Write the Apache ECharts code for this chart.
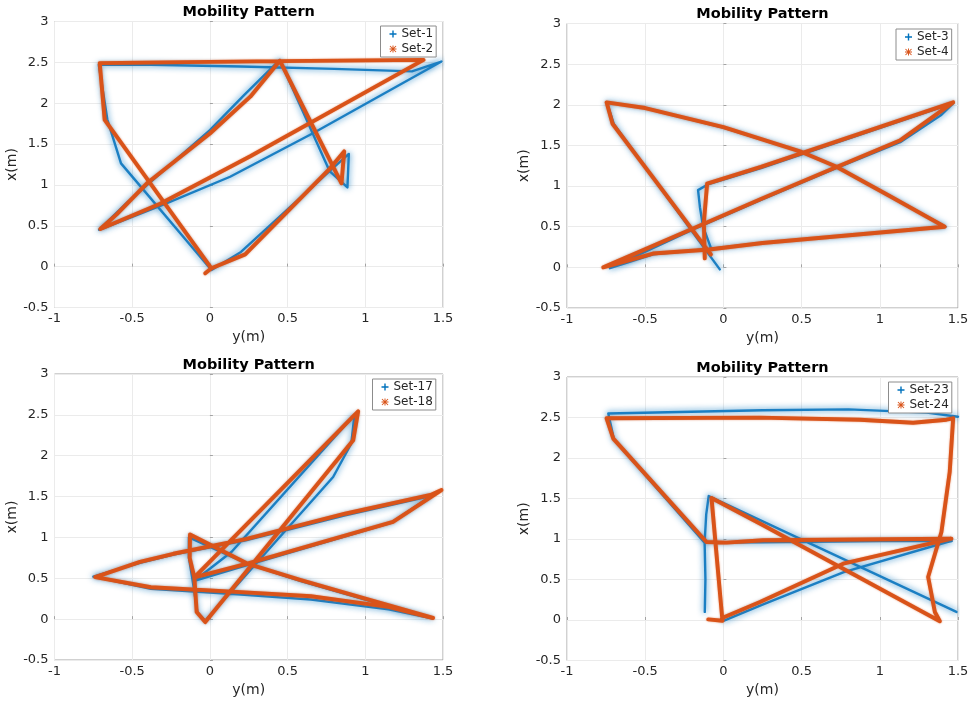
<!DOCTYPE html>
<html>
<head>
<meta charset="utf-8">
<script src="https://cdn.jsdelivr.net/npm/echarts@6/dist/echarts.min.js"></script>
<style>
  html, body { margin: 0; padding: 0; background: #ffffff; }
  #chart { width: 973px; height: 703px; }
</style>
</head>
<body>
<div id="chart"></div>
<script>
// Recorded trajectories, one [y (m), x (m)] pair per sample; null splits a run.
const set1 = [
  [0.885, 0.97], [0.894, 1.38], [0.77, 1.17], [0.20, 0.18], [0.01, -0.04],
  [-0.572, 1.264], [-0.66, 1.80], [-0.715, 2.47], [-0.38, 2.47], [0.2, 2.45],
  [0.8, 2.42], [1.3, 2.39], [1.49, 2.51], [0.66, 1.63], [0.13, 1.10],
  [-0.28, 0.775], [-0.713, 0.45], [-0.53, 0.79], [0.0, 1.67], [0.22, 2.10],
  [0.45, 2.53], [0.77, 1.17], [0.885, 0.97]
];
const set2 = [
  [-0.03, -0.08], [0.01, -0.02], [0.227, 0.15], [0.772, 1.20], [0.864, 1.41],
  [0.847, 1.02], [0.45, 2.52], [0.26, 2.08], [0.0, 1.63], [-0.405, 1.02],
  [-0.6, 0.64], [-0.705, 0.46], [-0.32, 0.77], [0.26, 1.35], [1.375, 2.53],
  [0.45, 2.515], [-0.3, 2.50], [-0.709, 2.49], [-0.677, 1.795], [0.01, -0.02]
];
const set3 = [
  [-0.08, 0.24], [-0.13, 0.50], [-0.15, 0.74], [-0.162, 0.95], [-0.10, 1.02],
  [0.24, 1.22], [1.47, 2.02], [1.39, 1.87], [1.13, 1.54], [0.72, 1.22],
  [0.24, 0.83], [-0.19, 0.47], [-0.726, -0.01], [-0.45, 0.16], [-0.09, 0.225],
  [0.25, 0.30], [1.42, 0.50], [1.06, 0.88], [0.72, 1.24], [0.5, 1.42],
  [0.0, 1.72], [-0.5, 1.96], [-0.745, 2.03], [-0.70, 1.76], [-0.023, -0.025]
];
const set4 = [
  [-0.119, 0.11], [-0.125, 0.55], [-0.104, 1.03], [0.24, 1.235], [1.469, 2.03],
  [1.128, 1.56], [0.724, 1.235], [0.24, 0.84], [-0.194, 0.479], [-0.768, 0.0],
  [-0.45, 0.17], [-0.09, 0.22], [0.25, 0.30], [1.415, 0.50], [1.06, 0.88],
  [0.72, 1.24], [0.5, 1.42], [0.0, 1.725], [-0.5, 1.96], [-0.747, 2.03],
  [-0.709, 1.767], [-0.08, 0.16]
];
const set17 = [
  [-0.03, -0.02], [-0.08, 0.08], [-0.11, 0.46], [-0.135, 0.75], [-0.135, 1.0],
  [0.24, 0.68], [0.58, 0.47], [1.0, 0.24], [1.43, 0.01], [1.15, 0.12],
  [0.65, 0.24], [0.2, 0.30], [-0.38, 0.37], [-0.75, 0.52], [-0.45, 0.69],
  [-0.235, 0.79], [0.23, 0.965], [0.87, 1.27], [1.425, 1.51], [1.17, 1.18],
  [0.24, 0.66], [-0.10, 0.47], [0.14, 0.825], [0.93, 2.50], [0.91, 2.15],
  [0.793, 1.74], [-0.03, -0.02]
];
const set18 = [
  [-0.03, -0.036], [-0.085, 0.087], [-0.10, 0.51], [-0.13, 0.75], [-0.128, 1.037],
  [0.24, 0.68], [0.58, 0.48], [1.0, 0.25], [1.436, 0.014], [1.15, 0.15],
  [0.65, 0.28], [0.2, 0.33], [-0.38, 0.39], [-0.738, 0.515], [-0.45, 0.70],
  [-0.235, 0.80], [0.23, 0.98], [0.87, 1.29], [1.42, 1.52], [1.49, 1.58],
  [1.178, 1.19], [0.24, 0.68], [-0.10, 0.51], [0.954, 2.543], [0.922, 2.188],
  [-0.03, -0.036]
];
const set23 = [
  [-0.119, 0.10], [-0.115, 0.5], [-0.12, 0.96], [-0.11, 1.3], [-0.094, 1.53],
  [1.49, 0.10], null,
  [0.0, -0.01], [0.25, 0.19], [0.77, 0.59], [1.43, 0.963], [1.46, 0.975],
  [1.0, 0.975], [0.25, 0.96], [-0.12, 0.955], [-0.70, 2.23], [-0.736, 2.55],
  [0.25, 2.59], [0.8, 2.60], [1.3, 2.56], [1.5, 2.51]
];
const set24 = [
  [-0.097, 0.008], [-0.006, -0.01], [-0.034, 0.593], [-0.076, 1.506], [0.254, 1.169],
  [1.384, -0.016], [1.352, 0.099], [1.309, 0.531], [1.394, 1.086], [1.447, 1.827],
  [1.469, 2.49], [1.426, 2.473], [1.213, 2.436], [0.873, 2.473], [0.234, 2.498],
  [-0.747, 2.49], [-0.704, 2.239], [-0.108, 0.963], [0.02, 0.955], [0.254, 0.984],
  [1.458, 1.004], [0.766, 0.695], [0.234, 0.222], [0.0, 0.03]
];

// Pairs of runs shown together in each panel
const panelSets = [
  [['Set-1', set1], ['Set-2', set2]],
  [['Set-3', set3], ['Set-4', set4]],
  [['Set-17', set17], ['Set-18', set18]],
  [['Set-23', set23], ['Set-24', set24]]
];
const panelTitle = 'Mobility Pattern';
const horizName = 'y(m)';
const vertName = 'x(m)';
const horizRange = [-1, 1.5];
const vertRange = [-0.5, 3];
const tickStep = 0.5;

// Layout of the 2x2 panels
const boxes = [
  { left: 54.5, top: 21.5, width: 388.5, height: 286 },
  { left: 567, top: 23.5, width: 391, height: 284.5 },
  { left: 54.5, top: 374, width: 388.5, height: 286 },
  { left: 567, top: 377, width: 391, height: 283.5 }
];
const legendBoxes = [
  { left: 380.5, top: 26 },
  { left: 896, top: 29 },
  { left: 372.5, top: 379 },
  { left: 888.5, top: 382 }
];

const FONT = 'DejaVu Sans';
const BLUE = '#0072BD';
const ORANGE = '#D95319';
const INK = '#262626';
const PLUS = 'path://M4,0H6V4H10V6H6V10H4V6H0V4H4Z';
const STAR = 'path://M4.3,0H5.7V10H4.3Z M0,4.3H10V5.7H0Z M1.2,0.2L9.8,8.8L8.8,9.8L0.2,1.2Z M8.8,0.2L9.8,1.2L1.2,9.8L0.2,8.8Z';

const chart = echarts.init(document.getElementById('chart'), null, { renderer: 'canvas' });

const grid = [], xAxis = [], yAxis = [], series = [], legend = [], graphics = [];

boxes.forEach((b, i) => {
  grid.push({
    left: b.left, top: b.top, width: b.width, height: b.height,
    show: true, borderColor: '#a3a3a3', borderWidth: 1, backgroundColor: '#ffffff'
  });
  xAxis.push({
    type: 'value', gridIndex: i, min: horizRange[0], max: horizRange[1], interval: tickStep,
    name: horizName, nameLocation: 'middle', nameGap: 23,
    nameTextStyle: { fontFamily: FONT, fontSize: 14, color: INK },
    axisLine: { show: false },
    axisTick: { show: true, inside: true, length: 3, lineStyle: { color: '#a3a3a3' } },
    axisLabel: { fontFamily: FONT, fontSize: 13, color: INK, margin: 5 },
    splitLine: { show: true, lineStyle: { color: '#ebebeb', width: 1 } }
  });
  yAxis.push({
    type: 'value', gridIndex: i, min: vertRange[0], max: vertRange[1], interval: tickStep,
    name: vertName, nameLocation: 'middle', nameGap: 31, nameRotate: 90,
    nameTextStyle: { fontFamily: FONT, fontSize: 14, color: INK },
    axisLine: { show: false },
    axisTick: { show: true, inside: true, length: 3, lineStyle: { color: '#a3a3a3' } },
    axisLabel: { fontFamily: FONT, fontSize: 13, color: INK, margin: 6 },
    splitLine: { show: true, lineStyle: { color: '#ebebeb', width: 1 } }
  });

  const [[nameA, dataA], [nameB, dataB]] = panelSets[i];
  series.push({
    type: 'line', name: nameA, data: dataA, xAxisIndex: i, yAxisIndex: i,
    symbol: 'none', connectNulls: false, silent: true, animation: false, z: 2,
    itemStyle: { color: BLUE },
    lineStyle: { color: '#1b7fc3', width: 2.4, join: 'round', cap: 'round',
      shadowBlur: 6, shadowColor: 'rgba(0,114,189,0.9)' }
  });
  series.push({
    type: 'line', name: nameB, data: dataB, xAxisIndex: i, yAxisIndex: i,
    symbol: 'none', connectNulls: false, silent: true, animation: false, z: 3,
    itemStyle: { color: ORANGE },
    lineStyle: { color: ORANGE, width: 3.9, join: 'round', cap: 'round',
      shadowBlur: 2, shadowColor: 'rgba(217,83,25,0.6)' }
  });

  legend.push({
    orient: 'vertical', left: legendBoxes[i].left, top: legendBoxes[i].top,
    data: [{ name: nameA, icon: PLUS }, { name: nameB, icon: STAR }],
    itemWidth: 7, itemHeight: 7, itemGap: 1,
    padding: [1, 3, 1, 9],
    borderColor: '#8c8c8c', borderWidth: 1, backgroundColor: '#ffffff',
    selectedMode: false,
    textStyle: { fontFamily: FONT, fontSize: 12, color: INK, lineHeight: 14 }
  });

  graphics.push({
    type: 'text', x: b.left + b.width / 2, y: b.top - 9,
    style: {
      text: panelTitle, fill: '#000000', textAlign: 'center', textVerticalAlign: 'middle',
      font: 'bold 14.5px "DejaVu Sans"'
    }
  });
});

chart.setOption({
  animation: false,
  backgroundColor: '#ffffff',
  grid, xAxis, yAxis, series, legend,
  graphic: graphics
});
</script>
</body>
</html>
